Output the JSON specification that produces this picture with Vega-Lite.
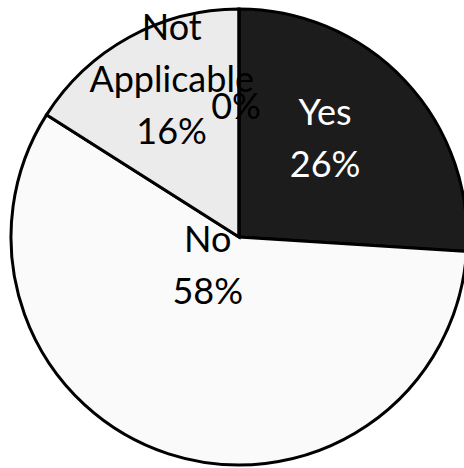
{
  "$schema": "https://vega.github.io/schema/vega-lite/v6.json",
  "width": 464,
  "height": 468,
  "autosize": {"type": "none"},
  "padding": 0,
  "background": "white",
  "config": {"view": {"stroke": null}},
  "data": {"values": [
    {"category": "Yes", "value": 26, "order": 1, "label": "Yes\n26%"},
    {"category": "No", "value": 58, "order": 2, "label": "No\n58%"},
    {"category": "Not Applicable", "value": 16, "order": 3, "label": "Not\nApplicable\n16%"},
    {"category": "Don't know", "value": 0, "order": 4, "label": "0%"}
  ]},
  "transform": [
    {"stack": "value", "groupby": [], "sort": [{"field": "order", "order": "ascending"}], "as": ["v0", "v1"]},
    {"calculate": "(datum.v0 + datum.v1) / 2", "as": "mid"}
  ],
  "layer": [
    {
      "mark": {"type": "arc", "stroke": "black", "strokeWidth": 3, "outerRadius": 228},
      "encoding": {
        "theta": {"field": "v0", "type": "quantitative", "scale": {"type": "linear", "domain": [0, 100], "range": [0, 6.283185307179586]}},
        "theta2": {"field": "v1"},
        "x": {"value": 239},
        "y": {"value": 237},
        "color": {"field": "category", "type": "nominal", "legend": null,
          "scale": {"domain": ["Yes", "No", "Not Applicable", "Don't know"], "range": ["#1c1c1c", "#fafafa", "#ebebeb", "#ffffff"]}}
      }
    },
    {
      "transform": [{"filter": "datum.category === 'Yes'"}],
      "mark": {"type": "text", "radius": 125, "dx": -5, "dy": -37, "font": "Lato", "fontSize": 36, "lineHeight": 52, "lineBreak": "\n", "align": "center", "baseline": "middle", "color": "white"},
      "encoding": {"text": {"field": "label"}, "theta": {"field": "mid", "type": "quantitative"}, "x": {"value": 239}, "y": {"value": 237}}
    },
    {
      "transform": [{"filter": "datum.category === 'No'"}],
      "mark": {"type": "text", "radius": 30, "dx": -22, "dy": -25, "font": "Lato", "fontSize": 36, "lineHeight": 52, "lineBreak": "\n", "align": "center", "baseline": "middle", "color": "black"},
      "encoding": {"text": {"field": "label"}, "theta": {"field": "mid", "type": "quantitative"}, "x": {"value": 239}, "y": {"value": 237}}
    },
    {
      "transform": [{"filter": "datum.category === 'Not Applicable'"}],
      "mark": {"type": "text", "radius": 173, "dx": 16, "dy": -56, "font": "Lato", "fontSize": 36, "lineHeight": 52, "lineBreak": "\n", "align": "center", "baseline": "middle", "color": "black"},
      "encoding": {"text": {"field": "label"}, "theta": {"field": "mid", "type": "quantitative"}, "x": {"value": 239}, "y": {"value": 237}}
    },
    {
      "transform": [{"filter": "datum.category === \"Don't know\""}],
      "mark": {"type": "text", "radius": 132, "dx": -3, "dy": 3, "font": "Lato", "fontSize": 36, "lineHeight": 52, "lineBreak": "\n", "align": "center", "baseline": "middle", "color": "black"},
      "encoding": {"text": {"field": "label"}, "theta": {"field": "mid", "type": "quantitative"}, "x": {"value": 239}, "y": {"value": 237}}
    }
  ]
}
